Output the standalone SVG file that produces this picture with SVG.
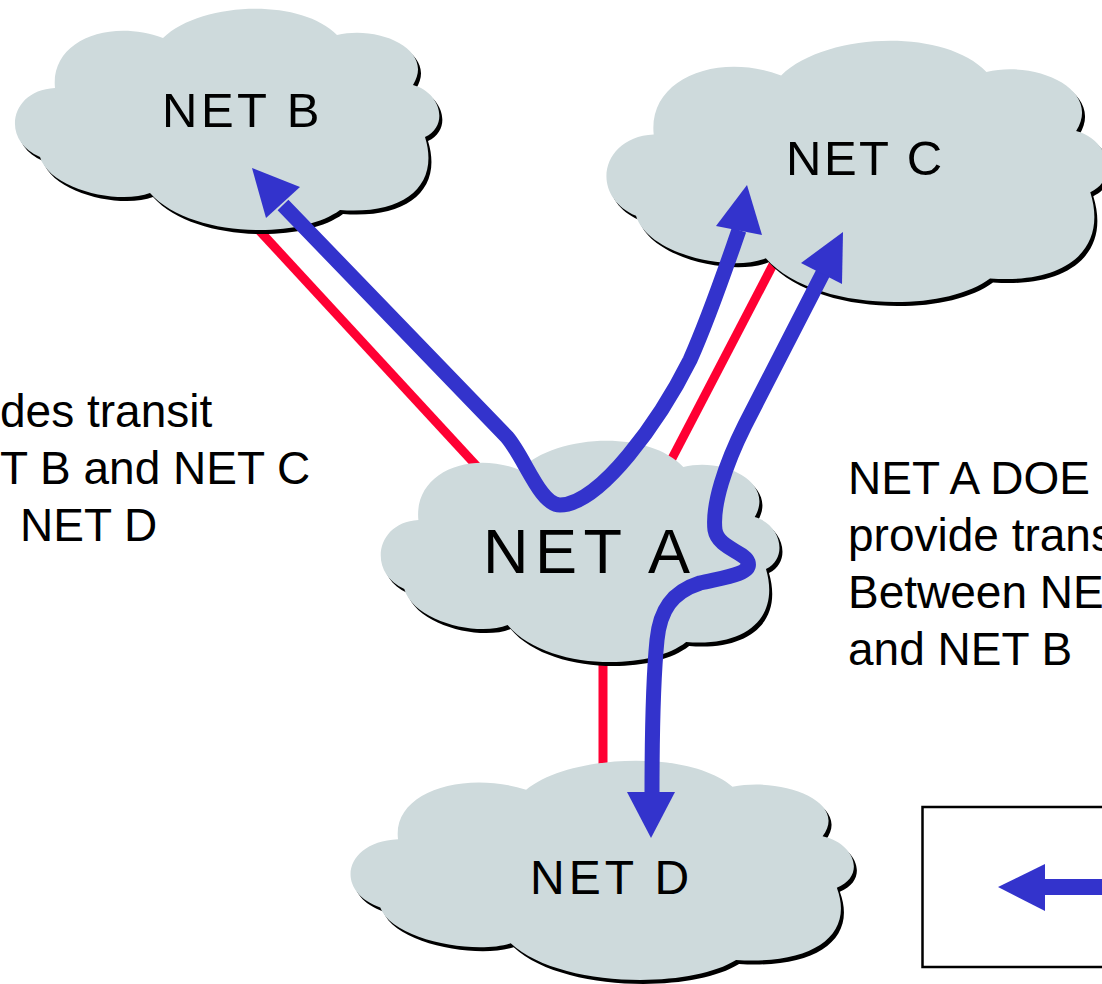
<svg xmlns="http://www.w3.org/2000/svg" xmlns:xlink="http://www.w3.org/1999/xlink" width="1102" height="984" viewBox="0 0 1102 984">
<style>
.cloud{fill:#CEDADC}
.shadow{fill:#000}
.lbl{font-family:"Liberation Sans",Arial,sans-serif;fill:#000}
.note{font-family:"Liberation Sans",Arial,sans-serif;font-size:46px;fill:#000}
.red{stroke:#FF0033;stroke-width:9;fill:none}
.blue{stroke:#3333CC;stroke-width:15;fill:none;stroke-linejoin:round}
.head{fill:#3333CC}
</style>
<defs>
<path id="cloud" d="M 55,88 C 50,40 110,18 163,38 C 200,2 300,-3 337,35 C 380,25 435,50 413,85 C 440,92 450,125 425,137 C 440,185 405,215 340,210 C 300,240 190,238 150,193 C 120,205 50,190 40,157 C 0,140 10,90 55,88 Z"/>
</defs>
<g id="links">
<line class="red" x1="245" y1="215" x2="485" y2="475"/>
<line class="red" x1="778" y1="255" x2="666" y2="470"/>
<line class="red" x1="603" y1="650" x2="603" y2="775"/>
</g>
<g id="netB">
<use xlink:href="#cloud" class="shadow" transform="translate(3,4)"/>
<use xlink:href="#cloud" class="cloud"/>
<text class="lbl" x="162" y="127" font-size="49" letter-spacing="3.5">NET B</text>
</g>
<g id="netC">
<use xlink:href="#cloud" class="shadow" transform="translate(591.8,34.6) scale(1.18)"/>
<use xlink:href="#cloud" class="cloud" transform="translate(588.8,30.6) scale(1.18)"/>
<text class="lbl" x="786" y="175" font-size="49" letter-spacing="2.5">NET C</text>
</g>
<g id="netA">
<use xlink:href="#cloud" class="shadow" transform="translate(369.7,436) scale(0.9395,1)"/>
<use xlink:href="#cloud" class="cloud" transform="translate(366.7,432) scale(0.9395,1)"/>
<text class="lbl" x="483" y="573" font-size="63" letter-spacing="6.5">NET A</text>
</g>
<g id="netD">
<use xlink:href="#cloud" class="shadow" transform="translate(335.8,756.1) scale(1.186,0.99)"/>
<use xlink:href="#cloud" class="cloud" transform="translate(332.8,752.1) scale(1.186,0.99)"/>
<text class="lbl" x="530" y="894" font-size="48" letter-spacing="4">NET D</text>
</g>
<g id="flows">
<path class="blue" d="M 283,205 L 507,437 C 525,458 540,505 560,505 C 600,505 660,420 690,360 C 710,315 725,270 739,230"/>
<polygon class="head" points="252,168 300,187 266,218"/>
<polygon class="head" points="747,185 762,235 716,226"/>
<path class="blue" d="M 823,273 L 745,425 C 725,465 712,505 715,530 C 718,548 745,552 748,562 C 752,575 720,578 700,583 C 672,592 660,610 657,640 C 653,680 652,720 652,795"/>
<polygon class="head" points="651,838 627,792 675,792"/>
<polygon class="head" points="843,232 842,284 801,263"/>
</g>
<g id="notes">
<text class="note" x="0" y="427">des transit</text>
<text class="note" x="0" y="484">T B and NET C</text>
<text class="note" x="20" y="541">NET D</text>
<text class="note" x="848" y="494" font-size="46.5">NET A DOE</text>
<text class="note" x="848" y="551" font-size="46.5">provide trans</text>
<text class="note" x="848" y="608" font-size="46.5">Between NE</text>
<text class="note" x="848" y="665" font-size="46.5">and NET B</text>
</g>
<g id="legend">
<rect x="922.5" y="807" width="200" height="160" fill="#fff" stroke="#000" stroke-width="2.5"/>
<polygon class="head" points="998,887 1045,864 1045,911"/>
<rect x="1043" y="879" width="70" height="16" fill="#3333CC"/>
</g>
</svg>
